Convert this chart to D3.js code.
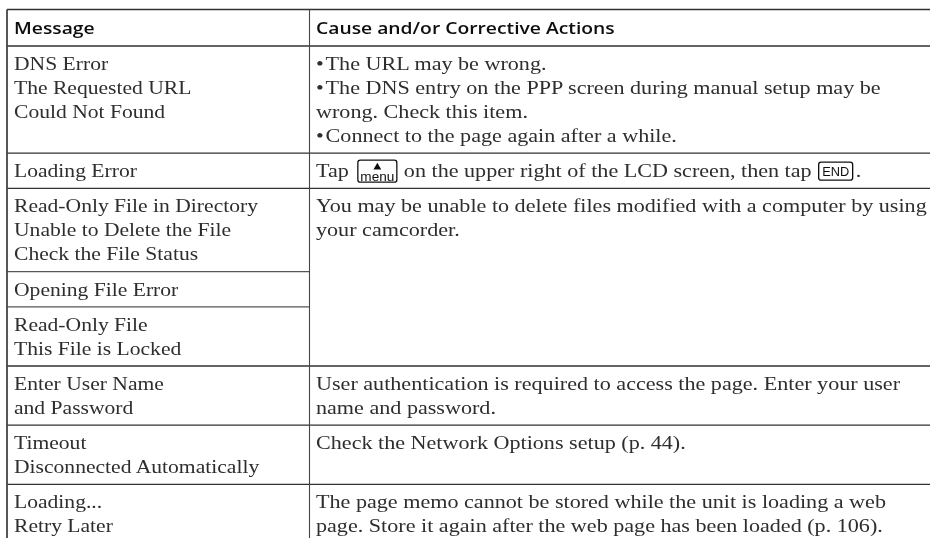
<!DOCTYPE html>
<html>
<head>
<meta charset="utf-8">
<script src="https://cdn.jsdelivr.net/npm/d3@7"></script>
<style>
  html, body { margin: 0; padding: 0; background: #fff; }
  svg { display: block; }
  .body { font-family: "Liberation Serif", serif; font-size: 19px; fill: #2e2e2e; }
  .head { font-family: "Open Sans", sans-serif; font-size: 17px; font-weight: 600; fill: #111; }
  .key { font-family: "Liberation Sans", sans-serif; fill: #111; }
</style>
</head>
<body>
<script>
const headers = ["Message", "Cause and/or Corrective Actions"];

const messages = [
  ["DNS Error", "The Requested URL", "Could Not Found"],
  ["Loading Error"],
  ["Read-Only File in Directory", "Unable to Delete the File", "Check the File Status"],
  ["Opening File Error"],
  ["Read-Only File", "This File is Locked"],
  ["Enter User Name", "and Password"],
  ["Timeout", "Disconnected Automatically"],
  ["Loading...", "Retry Later"]
];

// row span of the right hand cell, null means covered by the cell above
const actionSpans = [1, 1, 3, null, null, 1, 1, 1];

const actions = [
  ["•\u200aThe URL may be wrong.", "•\u200aThe DNS entry on the PPP screen during manual setup may be", "wrong. Check this item.", "•\u200aConnect to the page again after a while."],
  ["Tap {menu} on the upper right of the LCD screen, then tap {END}."],
  ["You may be unable to delete files modified with a computer by using", "your camcorder."],
  [],
  [],
  ["User authentication is required to access the page. Enter your user", "name and password."],
  ["Check the Network Options setup (p. 44)."],
  ["The page memo cannot be stored while the unit is loading a web", "page. Store it again after the web page has been loaded (p. 106)."]
];

const rowLines = [4, 1, 3, 1, 2, 2, 2, 2];

const width = 930, height = 538;
const lineHeight = 24, rowPad = 11.2;
const stretchLeft = 1.137, stretchRight = 1.165, stretchHead = 1.135;
const tableTop = 9.5, headBottom = 46, leftEdge = 7, divider = 309.5, textLeft = [14, 316];

const svg = d3.select("body").append("svg")
  .attr("width", width)
  .attr("height", height);

const defs = svg.append("defs");
defs.append("filter").attr("id", "soft")
  .append("feGaussianBlur").attr("stdDeviation", 0.35);

const root = svg.append("g").attr("filter", "url(#soft)");

// one unit of the scale is one text line, the padding is added per row
const yLine = d3.scaleLinear().domain([0, 1]).range([0, lineHeight]);
const rowTops = [headBottom];
rowLines.forEach((n, i) => rowTops.push(rowTops[i] + yLine(n) + rowPad));

const rules = root.append("g").attr("class", "rules");

function hRule(y, x2, stroke) {
  rules.append("line")
    .attr("x1", leftEdge).attr("x2", x2)
    .attr("y1", y).attr("y2", y)
    .attr("stroke", stroke)
    .attr("stroke-width", 1.3);
}

hRule(tableTop, width, "#333");
hRule(headBottom, width, "#333");
rowTops.slice(1, -1).forEach((y, i) => {
  // the merged cell has no rule on its right side
  if (actionSpans[i + 1] === null) {
    hRule(y, divider, "#555");
  } else {
    hRule(y, width, "#333");
  }
});

[[leftEdge, 1.8], [divider, 1.1]].forEach(([x, w]) => {
  rules.append("line")
    .attr("x1", x).attr("x2", x)
    .attr("y1", tableTop).attr("y2", height)
    .attr("stroke", "#444")
    .attr("stroke-width", w);
});

const content = root.append("g").attr("class", "content");

content.selectAll("text.head")
  .data(headers)
  .join("text")
  .attr("class", "head")
  .attr("transform", (d, i) => `translate(${textLeft[i]},34) scale(${stretchHead},1)`)
  .text(d => d);

function addKey(x, baseline, label) {
  const g = content.append("g");
  const isMenu = label === "menu";
  const w = isMenu ? 39 : 34;
  g.append("rect")
    .attr("x", x).attr("y", baseline - (isMenu ? 17 : 15))
    .attr("width", w).attr("height", isMenu ? 22 : 18)
    .attr("rx", 2.5)
    .attr("fill", "none")
    .attr("stroke", "#111")
    .attr("stroke-width", 1.3);
  if (isMenu) {
    g.append("path")
      .attr("d", d3.symbol(d3.symbolTriangle, 26)())
      .attr("transform", `translate(${x + w / 2},${baseline - 10})`)
      .attr("fill", "#111");
    g.append("text").attr("class", "key")
      .attr("x", x + w / 2).attr("y", baseline + 4)
      .attr("text-anchor", "middle")
      .attr("font-size", 13.6)
      .text(label);
  } else {
    g.append("text").attr("class", "key")
      .attr("x", x + w / 2).attr("y", baseline - 1.5)
      .attr("text-anchor", "middle")
      .attr("font-size", 12.8)
      .text(label);
  }
  return x + w;
}

function addBody(x, baseline, str, stretch) {
  return content.append("text")
    .attr("class", "body")
    .attr("transform", `translate(${x},${baseline}) scale(${stretch},1)`)
    .text(str);
}

messages.forEach((lines, r) => {
  lines.forEach((str, l) => {
    addBody(textLeft[0], rowTops[r] + yLine(l + 1), str, stretchLeft);
  });
});

actions.forEach((lines, r) => {
  lines.forEach((str, l) => {
    const baseline = rowTops[r] + yLine(l + 1);
    const parts = str.split(/\{(menu|END)\}/);
    if (parts.length === 1) {
      addBody(textLeft[1], baseline, str, stretchRight);
      return;
    }
    let x = textLeft[1];
    parts.forEach((part, i) => {
      if (i % 2 === 1) {
        x = addKey(x, baseline, part) + (part === "menu" ? 7 : 3);
      } else if (part) {
        const t = addBody(x, baseline, part, stretchRight);
        x += t.node().getComputedTextLength() * stretchRight + (i === 0 ? 9 : 7);
      }
    });
  });
});
</script>
</body>
</html>
